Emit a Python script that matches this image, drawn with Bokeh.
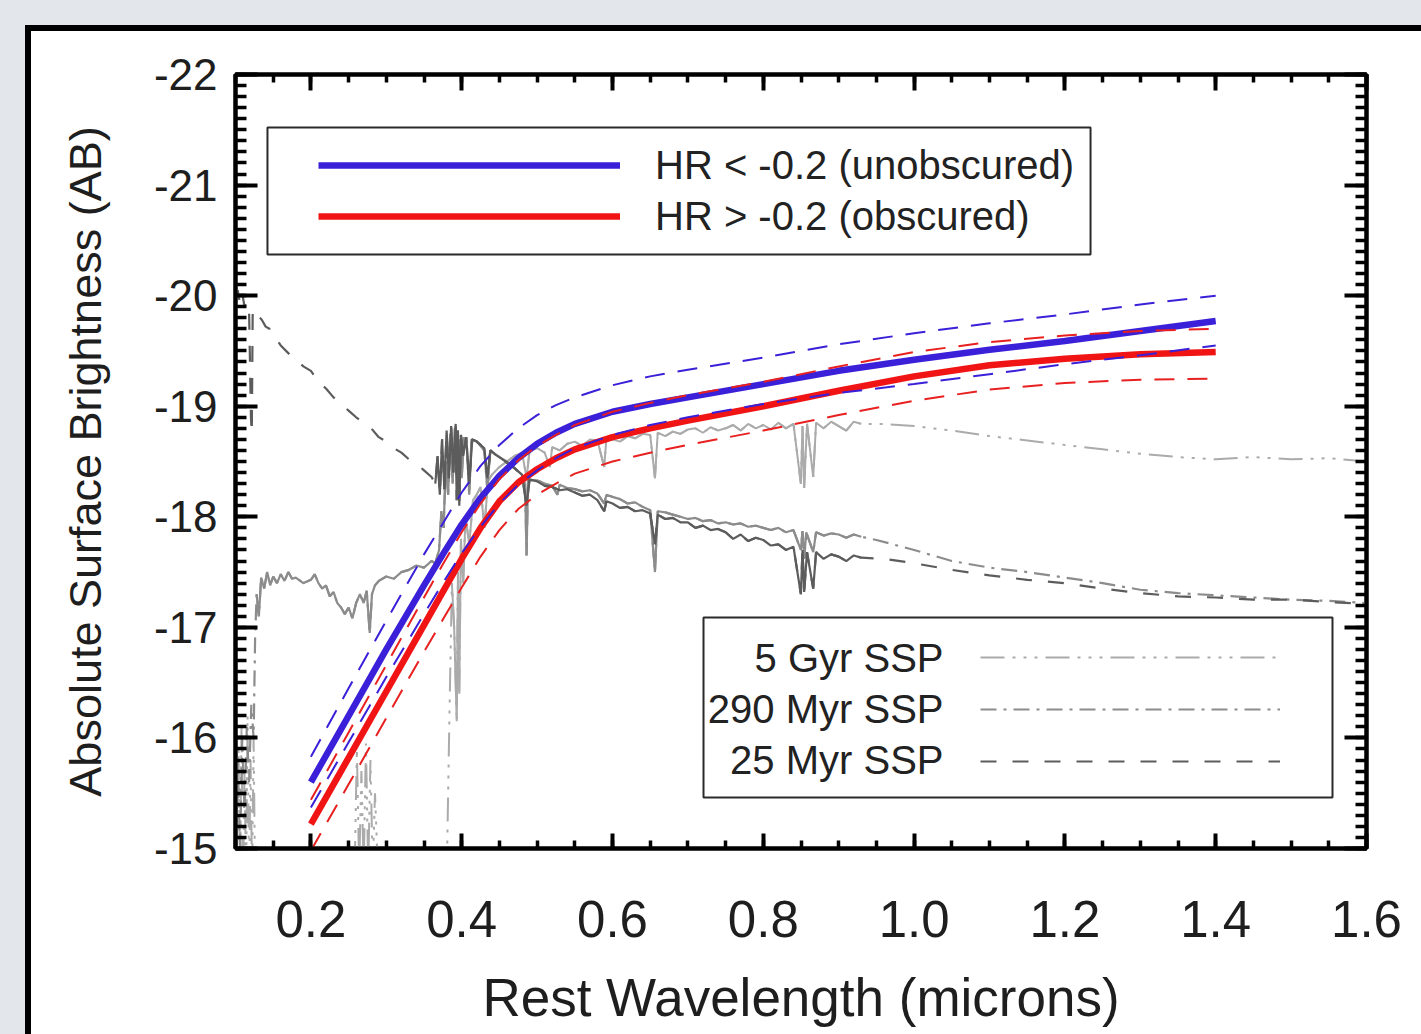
from bokeh.plotting import figure
from bokeh.models import (Range1d, LinearAxis, FixedTicker, PrintfTickFormatter,
                          Legend, LegendItem, BoxAnnotation, Label)
from bokeh.embed import file_html
from bokeh.resources import INLINE

FONT = "Liberation Sans"

# ---------------- tick labels ----------------
x_major_ticks = [0.2, 0.4, 0.6, 0.8, 1.0, 1.2, 1.4, 1.6]
y_major_ticks = [-22, -21, -20, -19, -18, -17, -16, -15]

# ---------------- composite SED curves (HR split) ----------------
curve_wl = [0.2, 0.25, 0.3, 0.35, 0.375, 0.4, 0.425, 0.45, 0.475, 0.5, 0.525,
            0.55, 0.6, 0.65, 0.7, 0.8, 0.9, 1.0, 1.1, 1.2, 1.3, 1.4]
unobscured_mag = [-15.60, -16.20, -16.80, -17.38, -17.66, -17.93, -18.17, -18.37, -18.53,
                  -18.66, -18.76, -18.84, -18.95, -19.02, -19.08, -19.20, -19.32, -19.42,
                  -19.51, -19.59, -19.68, -19.77]
unobscured_hi = [-15.83, -16.45, -17.06, -17.66, -17.94, -18.22, -18.46, -18.65, -18.80,
                 -18.92, -19.01, -19.08, -19.19, -19.27, -19.33, -19.44, -19.56, -19.66,
                 -19.75, -19.83, -19.92, -20.00]
unobscured_lo = [-15.37, -15.96, -16.55, -17.12, -17.40, -17.67, -17.91, -18.12, -18.29,
                 -18.42, -18.53, -18.62, -18.74, -18.83, -18.90, -19.02, -19.12, -19.20,
                 -19.29, -19.38, -19.46, -19.55]
obscured_mag = [-15.22, -15.82, -16.42, -17.02, -17.32, -17.62, -17.90, -18.14, -18.31,
                -18.43, -18.53, -18.61, -18.72, -18.80, -18.87, -19.00, -19.14, -19.27,
                -19.37, -19.43, -19.47, -19.49]
obscured_hi = [-15.44, -16.05, -16.66, -17.27, -17.57, -17.86, -18.12, -18.34, -18.51,
               -18.64, -18.74, -18.83, -18.95, -19.03, -19.10, -19.22, -19.36, -19.49,
               -19.58, -19.64, -19.68, -19.70]
obscured_lo = [-14.98, -15.58, -16.18, -16.78, -17.07, -17.36, -17.64, -17.88, -18.07,
               -18.20, -18.30, -18.39, -18.50, -18.58, -18.65, -18.78, -18.92, -19.05,
               -19.15, -19.21, -19.24, -19.25]

# ---------------- SSP template spectra: (wavelength, magnitude) ----------------
ssp_5gyr = [
    (0.100, -15.2), (0.102, -14.7), (0.104, -15.9), (0.106, -14.7), (0.108, -16.1),
    (0.110, -14.7), (0.112, -15.7), (0.114, -14.7), (0.116, -16.2), (0.118, -14.7),
    (0.120, -15.8), (0.122, -14.7), (0.124, -16.0), (0.126, -14.7), (0.140, -14.4),
    (0.200, -14.3), (0.250, -14.4), (0.258, -14.8), (0.261, -15.9), (0.264, -14.8),
    (0.267, -15.7), (0.270, -14.8), (0.273, -15.95), (0.276, -14.8), (0.279, -15.8),
    (0.282, -14.8), (0.285, -15.5), (0.290, -14.6), (0.330, -14.5), (0.370, -14.5),
    (0.380, -14.7), (0.384, -16.3), (0.387, -17.4), (0.390, -17.0), (0.3934, -16.15),
    (0.395, -17.5), (0.3968, -16.4), (0.399, -17.8), (0.402, -17.4), (0.405, -18.0),
    (0.410, -17.75), (0.415, -18.15),
    (0.420, -18.2), (0.425, -18.27), (0.430, -17.9), (0.435, -18.32), (0.440, -18.38),
    (0.450, -18.45), (0.460, -18.5), (0.470, -18.55), (0.480, -18.58), (0.4861, -18.35),
    (0.490, -18.6), (0.500, -18.62), (0.510, -18.58), (0.517, -18.45), (0.520, -18.63),
    (0.530, -18.60), (0.540, -18.66), (0.550, -18.68), (0.560, -18.64), (0.570, -18.70),
    (0.580, -18.69), (0.589, -18.45), (0.592, -18.72), (0.600, -18.70), (0.610, -18.68),
    (0.620, -18.73), (0.630, -18.71), (0.640, -18.75), (0.650, -18.74), (0.6563, -18.35),
    (0.660, -18.76), (0.670, -18.73), (0.680, -18.77), (0.690, -18.75), (0.700, -18.79),
    (0.710, -18.80), (0.720, -18.76), (0.730, -18.81), (0.740, -18.78), (0.750, -18.80),
    (0.760, -18.83), (0.770, -18.78), (0.780, -18.84), (0.790, -18.80), (0.800, -18.83),
    (0.810, -18.79), (0.820, -18.85), (0.830, -18.80), (0.840, -18.84), (0.8498, -18.30),
    (0.852, -18.82), (0.8542, -18.26), (0.858, -18.84), (0.8662, -18.36), (0.870, -18.85),
    (0.880, -18.80), (0.890, -18.86), (0.900, -18.82), (0.910, -18.78), (0.920, -18.86),
    (0.930, -18.84), (0.960, -18.84), (1.000, -18.82), (1.050, -18.78), (1.100, -18.73),
    (1.150, -18.69), (1.200, -18.65), (1.250, -18.61), (1.300, -18.57), (1.350, -18.54),
    (1.400, -18.52), (1.450, -18.54), (1.500, -18.52), (1.550, -18.53), (1.600, -18.50),
]

ssp_290myr = [
    (0.100, -15.1), (0.103, -15.8), (0.106, -15.0), (0.109, -16.0), (0.112, -15.3),
    (0.115, -16.1), (0.118, -15.6), (0.121, -16.3), (0.124, -16.0), (0.126, -16.9),
    (0.128, -17.3), (0.131, -17.1), (0.134, -17.45), (0.138, -17.35), (0.142, -17.5),
    (0.146, -17.38), (0.150, -17.46), (0.155, -17.40), (0.160, -17.48), (0.165, -17.42),
    (0.170, -17.50), (0.175, -17.44), (0.180, -17.45), (0.190, -17.40), (0.200, -17.43),
    (0.205, -17.48), (0.210, -17.40), (0.215, -17.35), (0.220, -17.38), (0.225, -17.28),
    (0.230, -17.32), (0.235, -17.22), (0.240, -17.18), (0.245, -17.12), (0.250, -17.18),
    (0.255, -17.08), (0.260, -17.22), (0.265, -17.30), (0.270, -17.22), (0.274, -17.33),
    (0.278, -16.95), (0.281, -17.30), (0.285, -17.38), (0.290, -17.42), (0.300, -17.46),
    (0.310, -17.44), (0.320, -17.50), (0.330, -17.52), (0.340, -17.56), (0.350, -17.54),
    (0.360, -17.60), (0.365, -17.58), (0.370, -17.70), (0.373, -18.05), (0.376, -17.90),
    (0.379, -18.50), (0.382, -18.20), (0.385, -18.75), (0.388, -18.30), (0.391, -18.80),
    (0.394, -18.25), (0.397, -18.70), (0.400, -18.35), (0.403, -18.72), (0.407, -18.62),
    (0.410, -18.20), (0.413, -18.70), (0.420, -18.68), (0.430, -18.60), (0.434, -18.25),
    (0.438, -18.60), (0.450, -18.54), (0.460, -18.50), (0.470, -18.44), (0.480, -18.38),
    (0.484, -18.30), (0.486, -17.65), (0.488, -18.33), (0.500, -18.33), (0.510, -18.30),
    (0.520, -18.28), (0.527, -18.20), (0.530, -18.29), (0.540, -18.26), (0.550, -18.25),
    (0.560, -18.23), (0.570, -18.24), (0.580, -18.21), (0.589, -18.12), (0.592, -18.20),
    (0.600, -18.18), (0.610, -18.16), (0.620, -18.12), (0.630, -18.13), (0.640, -18.09),
    (0.650, -18.06), (0.6563, -17.50), (0.660, -18.05), (0.670, -18.04), (0.680, -18.02),
    (0.690, -18.00), (0.700, -17.98), (0.710, -17.99), (0.720, -17.96), (0.730, -17.97),
    (0.740, -17.94), (0.750, -17.95), (0.760, -17.93), (0.770, -17.94), (0.780, -17.91),
    (0.790, -17.92), (0.800, -17.90), (0.810, -17.88), (0.820, -17.90), (0.830, -17.86),
    (0.840, -17.88), (0.8498, -17.70), (0.852, -17.87), (0.8542, -17.62), (0.857, -17.86),
    (0.8662, -17.68), (0.870, -17.86), (0.880, -17.83), (0.890, -17.85), (0.900, -17.84),
    (0.910, -17.81), (0.920, -17.84), (0.930, -17.82), (0.950, -17.79), (1.000, -17.70),
    (1.050, -17.60), (1.100, -17.54), (1.150, -17.50), (1.200, -17.45), (1.250, -17.40),
    (1.300, -17.34), (1.350, -17.31), (1.400, -17.29), (1.450, -17.27), (1.500, -17.25),
    (1.550, -17.24), (1.600, -17.22),
]

ssp_25myr = [
    (0.100, -20.00), (0.103, -20.05), (0.106, -19.92), (0.109, -20.02), (0.112, -19.90),
    (0.115, -19.95), (0.118, -19.86), (0.1205, -18.90), (0.1216, -18.75), (0.1228, -19.85),
    (0.126, -19.88), (0.130, -19.82), (0.135, -19.78), (0.140, -19.72), (0.145, -19.70),
    (0.150, -19.62), (0.155, -19.60), (0.160, -19.55), (0.170, -19.48), (0.180, -19.42),
    (0.190, -19.36), (0.200, -19.32), (0.210, -19.22), (0.220, -19.16), (0.230, -19.08),
    (0.240, -19.02), (0.250, -18.96), (0.260, -18.90), (0.270, -18.85), (0.280, -18.80),
    (0.290, -18.72), (0.300, -18.68), (0.310, -18.62), (0.320, -18.58), (0.330, -18.52),
    (0.340, -18.48), (0.350, -18.42), (0.360, -18.36), (0.365, -18.30), (0.368, -18.55),
    (0.371, -18.20), (0.374, -18.70), (0.377, -18.25), (0.380, -18.78), (0.383, -18.35),
    (0.386, -18.82), (0.389, -18.40), (0.392, -18.84), (0.3934, -18.15), (0.395, -18.78),
    (0.3968, -18.10), (0.399, -18.74), (0.402, -18.55), (0.406, -18.72), (0.410, -18.30),
    (0.414, -18.70), (0.420, -18.68), (0.425, -18.65), (0.430, -18.62), (0.434, -18.35),
    (0.438, -18.60), (0.445, -18.56), (0.450, -18.54), (0.460, -18.49), (0.470, -18.44),
    (0.480, -18.38), (0.486, -18.10), (0.490, -18.34), (0.500, -18.32), (0.510, -18.28),
    (0.520, -18.27), (0.530, -18.24), (0.540, -18.25), (0.550, -18.22), (0.560, -18.19),
    (0.570, -18.20), (0.580, -18.15), (0.589, -18.05), (0.592, -18.14), (0.600, -18.12),
    (0.610, -18.08), (0.620, -18.09), (0.630, -18.05), (0.640, -18.06), (0.650, -18.03),
    (0.6563, -17.75), (0.660, -18.02), (0.670, -17.98), (0.680, -17.99), (0.690, -17.95),
    (0.700, -17.95), (0.710, -17.90), (0.720, -17.92), (0.730, -17.88), (0.740, -17.89),
    (0.750, -17.86), (0.760, -17.80), (0.770, -17.84), (0.780, -17.78), (0.790, -17.81),
    (0.800, -17.79), (0.810, -17.74), (0.820, -17.75), (0.830, -17.70), (0.840, -17.73),
    (0.8498, -17.30), (0.852, -17.70), (0.8542, -17.32), (0.858, -17.68), (0.8662, -17.35),
    (0.870, -17.68), (0.880, -17.62), (0.890, -17.66), (0.900, -17.64), (0.910, -17.60),
    (0.920, -17.65), (0.930, -17.63), (0.960, -17.62), (1.000, -17.58), (1.050, -17.52),
    (1.100, -17.47), (1.150, -17.43), (1.200, -17.40), (1.250, -17.35), (1.300, -17.31),
    (1.350, -17.28), (1.400, -17.27), (1.450, -17.25), (1.500, -17.25), (1.550, -17.23),
    (1.600, -17.21),
]

ssp_names = ["5 Gyr SSP", "290 Myr SSP", "25 Myr SSP"]
hr_names = ["HR < -0.2 (unobscured)", "HR > -0.2 (obscured)"]

# ---------------- figure ----------------
BG = "#e3e6eb"
p = figure(width=1421, height=1034, output_backend="svg", toolbar_location=None,
           x_range=Range1d(0.1, 1.6), y_range=Range1d(-15, -22),
           min_border_left=235, min_border_right=55, min_border_top=74,
           min_border_bottom=186, border_fill_color=None,
           background_fill_color="white")
# grey surround + thick black page frame (behind the transparent canvas border)
p.styles = {
    "background": (
        f"linear-gradient(to bottom, {BG} 0px, {BG} 25px, transparent 25px), "
        f"linear-gradient(to right, {BG} 0px, {BG} 25px, #000000 25px, #000000 31px, transparent 31px), "
        f"linear-gradient(to bottom, {BG} 0px, {BG} 25px, #000000 25px, #000000 31px, #ffffff 31px)"
    )
}
p.grid.visible = False
p.outline_line_color = "black"
p.outline_line_width = 4

x_minor = [round(0.1 + 0.05 * i, 3) for i in range(31)]
y_minor = [round(-22 + 0.1 * i, 2) for i in range(71)]


def style_axis(ax, ticks, minor, major_len, minor_len):
    ax.ticker = FixedTicker(ticks=ticks, minor_ticks=minor)
    ax.axis_line_color = "black"
    ax.axis_line_width = 4
    ax.major_tick_in = major_len
    ax.major_tick_out = 0
    ax.minor_tick_in = minor_len
    ax.minor_tick_out = 0
    ax.major_tick_line_color = "black"
    ax.major_tick_line_width = 4
    ax.minor_tick_line_color = "black"
    ax.minor_tick_line_width = 3.5
    ax.major_label_text_font = FONT
    ax.major_label_text_color = "#1e1e1e"
    ax.axis_label_text_font = FONT
    ax.axis_label_text_font_style = "normal"
    ax.axis_label_text_color = "#1e1e1e"


xb = p.xaxis[0]
style_axis(xb, x_major_ticks, x_minor, 15, 8)
xb.formatter = PrintfTickFormatter(format="%.1f")
xb.major_label_text_font_size = "51px"
xb.major_label_standoff = 52
xb.axis_label = "Rest Wavelength (microns)"
xb.axis_label_text_font_size = "53px"
xb.axis_label_standoff = 28

yl = p.yaxis[0]
style_axis(yl, y_major_ticks, y_minor, 22, 11)
yl.formatter = PrintfTickFormatter(format="%d")
yl.major_label_text_font_size = "44px"
yl.major_label_standoff = 18
yl.axis_label = "Absolute Surface Brightness (AB)"
yl.axis_label_text_font_size = "45px"
yl.axis_label_standoff = 40

xt = LinearAxis()
style_axis(xt, x_major_ticks, x_minor, 16, 8)
xt.major_label_overrides = {t: "" for t in x_major_ticks}
p.add_layout(xt, "above")

yr = LinearAxis()
style_axis(yr, y_major_ticks, y_minor, 22, 11)
yr.major_label_overrides = {t: "" for t in y_major_ticks}
p.add_layout(yr, "right")


# ---------------- spectra ----------------
def draw_spectrum(pairs, color, dash, lw, lo, hi):
    wl = [w for w, m in pairs]
    mag = [m for w, m in pairs]
    r = p.line(wl, mag, line_color=color, line_width=lw, line_dash=dash)
    dx = [w for w in wl if lo <= w <= hi]
    dy = [m for w, m in zip(wl, mag) if lo <= w <= hi]
    p.line(dx, dy, line_color=color, line_width=lw)
    return r


r5 = draw_spectrum(ssp_5gyr, "#ababab", "24 8 3 8 3 8 3 8", 2, 0.386, 0.935)
r290 = draw_spectrum(ssp_290myr, "#8c8c8c", "16 7 3 7", 2.2, 0.127, 0.935)
r25 = draw_spectrum(ssp_25myr, "#5c5c5c", "16 16", 2.2, 0.362, 0.935)

BLUE = "#3a20d8"
RED = "#f01414"
rb = p.line(curve_wl, unobscured_mag, line_color=BLUE, line_width=6.5)
rr = p.line(curve_wl, obscured_mag, line_color=RED, line_width=6.5)
for ys in (unobscured_hi, unobscured_lo):
    p.line(curve_wl, ys, line_color=BLUE, line_width=2, line_dash="20 13")
for ys in (obscured_hi, obscured_lo):
    p.line(curve_wl, ys, line_color="#e82020", line_width=2, line_dash="20 13")

# ---------------- legends ----------------
p.add_layout(BoxAnnotation(left=0.1424, right=1.234, top=-21.521, bottom=-20.372,
                           fill_color=None, fill_alpha=0, line_color="#2a2a2a",
                           line_alpha=1, line_width=2))
leg1 = Legend(items=[LegendItem(label=hr_names[0], renderers=[rb]),
                     LegendItem(label=hr_names[1], renderers=[rr])],
              location=(83, 608), glyph_width=302, glyph_height=48, label_height=48,
              label_standoff=35, spacing=3, padding=0, margin=0,
              border_line_color=None, background_fill_alpha=0,
              label_text_font=FONT, label_text_font_size="40px", label_text_color="#222222")
p.add_layout(leg1)

p.add_layout(BoxAnnotation(left=0.7207, right=1.5549, top=-17.089, bottom=-15.461,
                           fill_color=None, fill_alpha=0, line_color="#2a2a2a",
                           line_alpha=1, line_width=2))
leg2 = Legend(items=[LegendItem(label=" ", renderers=[r5]),
                     LegendItem(label=" ", renderers=[r290]),
                     LegendItem(label=" ", renderers=[r25])],
              location=(745, 63), glyph_width=300, glyph_height=48, label_height=48,
              label_standoff=0, label_width=0, spacing=4, padding=0, margin=0,
              border_line_color=None, background_fill_alpha=0,
              label_text_font_size="10px")
p.add_layout(leg2)

ssp_label_y = [-16.727, -16.266, -15.796]
for name, yv in zip(ssp_names, ssp_label_y):
    p.add_layout(Label(x=1.039, y=yv, text=name, text_align="right", text_baseline="middle",
                       text_font=FONT, text_font_size="40px", text_color="#222222"))

open("out.html", "w").write(file_html(p, INLINE))
